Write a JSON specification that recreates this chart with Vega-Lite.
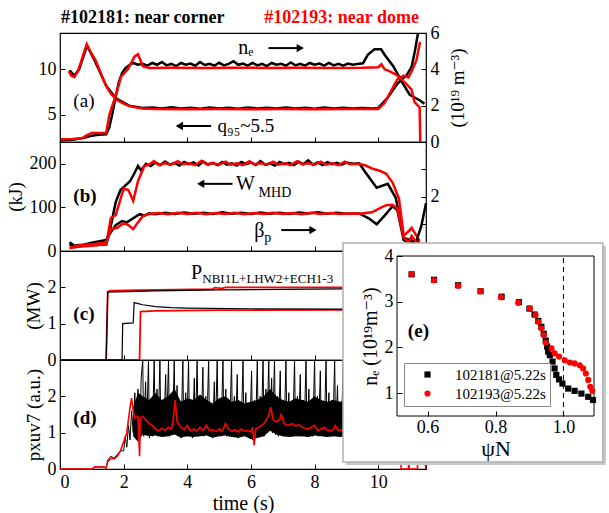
{
"$schema": "https://vega.github.io/schema/vega-lite/v6.json",
"background": "white",
"padding": {"left": 5, "top": 8, "right": 0, "bottom": 5},
"spacing": 0,
"bounds": "flush",
"config": {
  "font": "Liberation Serif, Times New Roman, DejaVu Serif, serif",
  "view": {"stroke": "#000", "strokeWidth": 1.2},
  "axis": {"domain": false, "grid": false, "tickSize": -5, "tickColor": "#000", "tickWidth": 1, "labelPadding": 9, "labelFont": "Liberation Serif, Times New Roman, DejaVu Serif, serif", "labelFontSize": 18, "labelColor": "#000", "titleFont": "Liberation Serif, Times New Roman, DejaVu Serif, serif", "titleFontSize": 19, "titleFontWeight": "normal", "titleColor": "#000"},
  "legend": {"labelFont": "Liberation Serif, Times New Roman, DejaVu Serif, serif"},
  "text": {"font": "Liberation Serif, Times New Roman, DejaVu Serif, serif", "fontSize": 18}
},
"resolve": {"scale": {"color": "independent", "shape": "independent"}},
"datasets": {
  "a_q181": [{"t":0.3,"v":9.9},{"t":0.45,"v":9.3},{"t":0.6,"v":10.0},{"t":0.85,"v":12.6},{"t":1.1,"v":10.9},{"t":1.45,"v":8.2},{"t":1.76,"v":6.8},{"t":2.17,"v":6.0},{"t":2.6,"v":5.75},{"t":2.9,"v":5.8},{"t":3.2,"v":5.68},{"t":3.5,"v":5.82},{"t":3.8,"v":5.7},{"t":4.1,"v":5.78},{"t":4.4,"v":5.66},{"t":4.7,"v":5.8},{"t":5.0,"v":5.7},{"t":5.3,"v":5.76},{"t":5.6,"v":5.66},{"t":5.9,"v":5.8},{"t":6.2,"v":5.7},{"t":6.5,"v":5.78},{"t":6.8,"v":5.68},{"t":7.1,"v":5.8},{"t":7.4,"v":5.7},{"t":7.7,"v":5.76},{"t":8.0,"v":5.66},{"t":8.3,"v":5.8},{"t":8.6,"v":5.7},{"t":8.9,"v":5.76},{"t":9.2,"v":5.68},{"t":9.5,"v":5.75},{"t":9.8,"v":5.7},{"t":10.0,"v":5.75},{"t":10.3,"v":6.9},{"t":10.6,"v":8.4},{"t":10.9,"v":9.4},{"t":11.05,"v":10.3},{"t":11.15,"v":12.0},{"t":11.25,"v":14.0}],
  "a_q193": [{"t":0.27,"v":9.8},{"t":0.36,"v":9.3},{"t":0.45,"v":9.15},{"t":0.55,"v":9.7},{"t":0.65,"v":10.7},{"t":0.75,"v":11.8},{"t":0.84,"v":12.76},{"t":0.95,"v":12.0},{"t":1.13,"v":10.9},{"t":1.3,"v":9.4},{"t":1.45,"v":8.16},{"t":1.6,"v":7.3},{"t":1.76,"v":6.7},{"t":1.95,"v":6.3},{"t":2.17,"v":5.96},{"t":2.4,"v":5.8},{"t":2.6,"v":5.7},{"t":3.0,"v":5.62},{"t":4.0,"v":5.6},{"t":5.0,"v":5.62},{"t":6.0,"v":5.6},{"t":7.0,"v":5.62},{"t":8.0,"v":5.6},{"t":9.0,"v":5.62},{"t":10.0,"v":5.62},{"t":10.2,"v":6.3},{"t":10.4,"v":7.6},{"t":10.6,"v":8.9},{"t":10.8,"v":9.3},{"t":10.95,"v":9.1},{"t":11.05,"v":9.8},{"t":11.2,"v":11.0},{"t":11.3,"v":12.8},{"t":11.33,"v":13.0}],
  "a_ne181": [{"t":0.0,"v":0.1},{"t":0.4,"v":0.12},{"t":0.8,"v":0.25},{"t":1.0,"v":0.35},{"t":1.2,"v":0.4},{"t":1.45,"v":0.42},{"t":1.55,"v":0.8},{"t":1.65,"v":1.6},{"t":1.75,"v":2.5},{"t":1.85,"v":3.3},{"t":1.95,"v":3.8},{"t":2.05,"v":4.05},{"t":2.15,"v":4.2},{"t":2.3,"v":4.35},{"t":2.45,"v":4.25},{"t":2.6,"v":4.3},{"t":2.75,"v":4.2},{"t":2.9,"v":4.35},{"t":3.05,"v":4.25},{"t":3.2,"v":4.4},{"t":3.35,"v":4.22},{"t":3.5,"v":4.3},{"t":3.65,"v":4.18},{"t":3.8,"v":4.35},{"t":3.95,"v":4.25},{"t":4.1,"v":4.32},{"t":4.25,"v":4.2},{"t":4.4,"v":4.4},{"t":4.55,"v":4.24},{"t":4.7,"v":4.3},{"t":4.85,"v":4.2},{"t":5.0,"v":4.36},{"t":5.15,"v":4.22},{"t":5.3,"v":4.3},{"t":5.45,"v":4.45},{"t":5.6,"v":4.25},{"t":5.75,"v":4.32},{"t":5.9,"v":4.2},{"t":6.05,"v":4.35},{"t":6.2,"v":4.22},{"t":6.35,"v":4.3},{"t":6.5,"v":4.18},{"t":6.65,"v":4.35},{"t":6.8,"v":4.25},{"t":6.95,"v":4.3},{"t":7.1,"v":4.2},{"t":7.25,"v":4.38},{"t":7.4,"v":4.22},{"t":7.55,"v":4.3},{"t":7.7,"v":4.2},{"t":7.85,"v":4.35},{"t":8.0,"v":4.25},{"t":8.15,"v":4.32},{"t":8.3,"v":4.2},{"t":8.45,"v":4.35},{"t":8.6,"v":4.22},{"t":8.75,"v":4.3},{"t":8.9,"v":4.2},{"t":9.05,"v":4.32},{"t":9.2,"v":4.25},{"t":9.35,"v":4.3},{"t":9.52,"v":4.33},{"t":9.67,"v":4.8},{"t":9.88,"v":5.1},{"t":10.09,"v":5.1},{"t":10.2,"v":4.8},{"t":10.47,"v":4.17},{"t":10.78,"v":3.2},{"t":10.99,"v":2.6},{"t":11.3,"v":2.3},{"t":11.45,"v":2.1}],
  "a_ne193": [{"t":0.03,"v":0.15},{"t":0.4,"v":0.17},{"t":0.72,"v":0.22},{"t":0.82,"v":0.35},{"t":1.0,"v":0.5},{"t":1.45,"v":0.5},{"t":1.55,"v":1.5},{"t":1.76,"v":2.6},{"t":1.92,"v":3.6},{"t":2.13,"v":4.0},{"t":2.34,"v":4.7},{"t":2.45,"v":4.83},{"t":2.6,"v":4.17},{"t":2.8,"v":4.08},{"t":3.5,"v":4.09},{"t":4.5,"v":4.07},{"t":5.5,"v":4.09},{"t":6.5,"v":4.08},{"t":7.5,"v":4.09},{"t":8.5,"v":4.08},{"t":9.5,"v":4.09},{"t":10.0,"v":4.12},{"t":10.1,"v":4.28},{"t":10.2,"v":4.0},{"t":10.35,"v":3.9},{"t":10.57,"v":3.7},{"t":10.88,"v":3.2},{"t":11.04,"v":2.9},{"t":11.14,"v":2.2},{"t":11.3,"v":1.9},{"t":11.32,"v":0.0}],
  "b_w181": [{"t":0.3,"v":20},{"t":0.45,"v":12},{"t":0.6,"v":14},{"t":1.0,"v":14},{"t":1.45,"v":15},{"t":1.55,"v":40},{"t":1.75,"v":112},{"t":1.9,"v":140},{"t":2.05,"v":150},{"t":2.2,"v":160},{"t":2.35,"v":180},{"t":2.45,"v":195},{"t":2.55,"v":185},{"t":2.7,"v":200},{"t":2.85,"v":195},{"t":3.0,"v":203},{"t":3.15,"v":197},{"t":3.3,"v":205},{"t":3.45,"v":198},{"t":3.6,"v":202},{"t":3.75,"v":196},{"t":3.9,"v":204},{"t":4.05,"v":199},{"t":4.2,"v":203},{"t":4.35,"v":196},{"t":4.5,"v":205},{"t":4.65,"v":198},{"t":4.8,"v":202},{"t":4.95,"v":197},{"t":5.1,"v":204},{"t":5.25,"v":198},{"t":5.4,"v":201},{"t":5.55,"v":196},{"t":5.7,"v":204},{"t":5.85,"v":199},{"t":6.0,"v":203},{"t":6.15,"v":197},{"t":6.3,"v":206},{"t":6.45,"v":198},{"t":6.6,"v":201},{"t":6.75,"v":196},{"t":6.9,"v":204},{"t":7.05,"v":199},{"t":7.2,"v":202},{"t":7.35,"v":197},{"t":7.5,"v":205},{"t":7.65,"v":199},{"t":7.8,"v":208},{"t":7.95,"v":198},{"t":8.1,"v":203},{"t":8.25,"v":197},{"t":8.4,"v":204},{"t":8.55,"v":199},{"t":8.7,"v":202},{"t":8.85,"v":198},{"t":9.0,"v":203},{"t":9.2,"v":200},{"t":9.4,"v":201},{"t":9.6,"v":180},{"t":9.8,"v":160},{"t":9.95,"v":145},{"t":10.3,"v":154},{"t":10.55,"v":122},{"t":10.8,"v":30},{"t":11.1,"v":23},{"t":11.3,"v":20}],
  "b_w193": [{"t":0.3,"v":7},{"t":0.6,"v":10},{"t":1.0,"v":12},{"t":1.45,"v":15},{"t":1.6,"v":76},{"t":1.75,"v":82},{"t":2.0,"v":143},{"t":2.15,"v":140},{"t":2.3,"v":115},{"t":2.45,"v":160},{"t":2.65,"v":195},{"t":2.8,"v":198},{"t":2.95,"v":206},{"t":3.1,"v":197},{"t":3.3,"v":201},{"t":3.5,"v":198},{"t":3.7,"v":206},{"t":3.85,"v":199},{"t":4.05,"v":201},{"t":4.25,"v":197},{"t":4.45,"v":207},{"t":4.6,"v":199},{"t":4.8,"v":201},{"t":5.0,"v":198},{"t":5.2,"v":205},{"t":5.35,"v":198},{"t":5.55,"v":201},{"t":5.75,"v":197},{"t":5.95,"v":206},{"t":6.1,"v":199},{"t":6.3,"v":201},{"t":6.5,"v":198},{"t":6.7,"v":205},{"t":6.85,"v":198},{"t":7.05,"v":201},{"t":7.25,"v":197},{"t":7.45,"v":206},{"t":7.6,"v":199},{"t":7.8,"v":201},{"t":8.0,"v":198},{"t":8.2,"v":205},{"t":8.35,"v":198},{"t":8.55,"v":201},{"t":8.75,"v":197},{"t":8.95,"v":205},{"t":9.1,"v":199},{"t":9.4,"v":200},{"t":9.6,"v":196},{"t":9.85,"v":188},{"t":10.05,"v":184},{"t":10.25,"v":177},{"t":10.45,"v":157},{"t":10.65,"v":120},{"t":10.8,"v":35},{"t":10.95,"v":45},{"t":11.05,"v":53},{"t":11.3,"v":23}],
  "b_bp181": [{"t":0.3,"v":0.25},{"t":0.45,"v":0.15},{"t":1.0,"v":0.3},{"t":1.45,"v":0.4},{"t":1.55,"v":0.6},{"t":1.75,"v":0.95},{"t":1.95,"v":1.1},{"t":2.1,"v":1.05},{"t":2.3,"v":1.2},{"t":2.5,"v":1.35},{"t":2.65,"v":1.3},{"t":2.8,"v":1.38},{"t":3.0,"v":1.35},{"t":3.3,"v":1.4},{"t":3.6,"v":1.36},{"t":3.9,"v":1.41},{"t":4.2,"v":1.37},{"t":4.5,"v":1.4},{"t":4.8,"v":1.36},{"t":5.1,"v":1.42},{"t":5.4,"v":1.37},{"t":5.7,"v":1.4},{"t":6.0,"v":1.36},{"t":6.3,"v":1.41},{"t":6.6,"v":1.37},{"t":6.9,"v":1.4},{"t":7.2,"v":1.36},{"t":7.5,"v":1.41},{"t":7.8,"v":1.38},{"t":8.1,"v":1.42},{"t":8.4,"v":1.37},{"t":8.7,"v":1.4},{"t":9.0,"v":1.37},{"t":9.4,"v":1.38},{"t":9.7,"v":1.2},{"t":9.95,"v":0.98},{"t":10.2,"v":1.3},{"t":10.45,"v":1.64},{"t":10.6,"v":1.5},{"t":10.8,"v":0.4},{"t":11.0,"v":0.3},{"t":11.2,"v":0.38},{"t":11.35,"v":0.9},{"t":11.5,"v":1.75}],
  "b_bp193": [{"t":0.3,"v":0.12},{"t":0.6,"v":0.2},{"t":1.0,"v":0.25},{"t":1.45,"v":0.3},{"t":1.6,"v":0.8},{"t":1.8,"v":0.85},{"t":2.0,"v":1.02},{"t":2.15,"v":0.95},{"t":2.3,"v":0.8},{"t":2.45,"v":1.05},{"t":2.6,"v":1.28},{"t":2.8,"v":1.36},{"t":3.1,"v":1.39},{"t":3.4,"v":1.35},{"t":3.7,"v":1.4},{"t":4.0,"v":1.36},{"t":4.3,"v":1.4},{"t":4.6,"v":1.35},{"t":4.9,"v":1.39},{"t":5.2,"v":1.36},{"t":5.5,"v":1.4},{"t":5.8,"v":1.35},{"t":6.1,"v":1.39},{"t":6.4,"v":1.36},{"t":6.7,"v":1.4},{"t":7.0,"v":1.36},{"t":7.3,"v":1.39},{"t":7.6,"v":1.35},{"t":7.9,"v":1.4},{"t":8.2,"v":1.36},{"t":8.5,"v":1.39},{"t":8.8,"v":1.36},{"t":9.1,"v":1.38},{"t":9.4,"v":1.37},{"t":9.8,"v":1.42},{"t":10.1,"v":1.6},{"t":10.25,"v":1.68},{"t":10.45,"v":1.7},{"t":10.6,"v":1.55},{"t":10.8,"v":0.5},{"t":10.95,"v":0.3},{"t":11.05,"v":0.55},{"t":11.3,"v":0.15}],
  "c_red": [{"s":"r1","t":0.0,"v":0.0},{"s":"r1","t":1.45,"v":0.0},{"s":"r1","t":1.5,"v":1.88},{"s":"r1","t":1.6,"v":1.91},{"s":"r1","t":3.0,"v":1.93},{"s":"r1","t":4.8,"v":1.95},{"s":"r1","t":4.85,"v":1.99},{"s":"r1","t":5.1,"v":1.97},{"s":"r1","t":5.2,"v":2.0},{"s":"r1","t":8.9,"v":2.0},{"s":"r1","t":10.9,"v":2.0},{"s":"r1","t":10.95,"v":0.0},{"s":"r1","t":11.5,"v":0.0},{"s":"r2","t":0.0,"v":0.0},{"s":"r2","t":2.5,"v":0.0},{"s":"r2","t":2.53,"v":1.33},{"s":"r2","t":3.0,"v":1.35},{"s":"r2","t":5.0,"v":1.37},{"s":"r2","t":8.9,"v":1.38},{"s":"r2","t":10.9,"v":1.38},{"s":"r2","t":10.95,"v":0.0}],
  "c_black": [{"s":"k1","t":1.45,"v":0.0},{"s":"k1","t":1.5,"v":1.87},{"s":"k1","t":3.0,"v":1.9},{"s":"k1","t":5.0,"v":1.93},{"s":"k1","t":8.9,"v":1.96},{"s":"k2","t":0.0,"v":0.0},{"s":"k2","t":1.95,"v":0.0},{"s":"k2","t":1.97,"v":1.0},{"s":"k2","t":2.3,"v":1.02},{"s":"k2","t":2.33,"v":1.58},{"s":"k2","t":2.6,"v":1.52},{"s":"k2","t":3.0,"v":1.47},{"s":"k2","t":3.5,"v":1.44},{"s":"k2","t":4.0,"v":1.43},{"s":"k2","t":6.0,"v":1.41},{"s":"k2","t":8.9,"v":1.4},{"s":"k2","t":10.9,"v":1.4}],
  "d_band": [{"t":2.3,"lo":0.9,"hi":1.7},{"t":2.45,"lo":0.75,"hi":2.1},{"t":2.6,"lo":0.95,"hi":2.0},{"t":2.8,"lo":0.9,"hi":1.9},{"t":3.0,"lo":0.92,"hi":2.1},{"t":3.2,"lo":0.88,"hi":1.9},{"t":3.4,"lo":0.9,"hi":2.0},{"t":3.6,"lo":0.95,"hi":2.2},{"t":3.8,"lo":0.87,"hi":1.85},{"t":4.0,"lo":0.9,"hi":1.95},{"t":4.2,"lo":0.88,"hi":1.9},{"t":4.4,"lo":0.9,"hi":2.05},{"t":4.6,"lo":0.92,"hi":1.9},{"t":4.8,"lo":0.86,"hi":1.8},{"t":5.0,"lo":0.9,"hi":1.95},{"t":5.2,"lo":0.92,"hi":2.0},{"t":5.4,"lo":0.88,"hi":1.85},{"t":5.6,"lo":0.86,"hi":1.9},{"t":5.8,"lo":0.9,"hi":1.8},{"t":6.0,"lo":0.82,"hi":1.85},{"t":6.2,"lo":0.85,"hi":1.9},{"t":6.4,"lo":0.9,"hi":2.0},{"t":6.6,"lo":1.05,"hi":2.2},{"t":6.8,"lo":0.95,"hi":2.0},{"t":7.0,"lo":0.9,"hi":1.9},{"t":7.2,"lo":0.88,"hi":1.85},{"t":7.4,"lo":0.9,"hi":1.95},{"t":7.6,"lo":0.9,"hi":1.9},{"t":7.8,"lo":0.88,"hi":1.85},{"t":8.0,"lo":0.92,"hi":2.0},{"t":8.2,"lo":0.9,"hi":1.9},{"t":8.4,"lo":0.88,"hi":1.85},{"t":8.6,"lo":0.9,"hi":1.9},{"t":8.8,"lo":0.88,"hi":1.85},{"t":9.0,"lo":0.9,"hi":1.9}],
  "d_black": [{"t":0.0,"v":0.0},{"t":1.0,"v":0.0},{"t":1.1,"v":0.05},{"t":1.4,"v":0.06},{"t":1.45,"v":0.02},{"t":1.5,"v":0.25},{"t":1.6,"v":0.35},{"t":1.7,"v":0.3},{"t":1.8,"v":0.4},{"t":1.9,"v":0.5},{"t":2.0,"v":0.5},{"t":2.05,"v":0.9},{"t":2.1,"v":0.6},{"t":2.15,"v":1.2},{"t":2.2,"v":0.8},{"t":2.25,"v":1.6},{"t":2.3,"v":1.0},{"t":2.35,"v":2.1},{"t":2.4,"v":0.9},{"t":2.45,"v":2.2},{"t":2.5,"v":0.5},{"t":2.55,"v":2.5},{"t":2.6,"v":3.0},{"t":2.63,"v":0.9},{"t":2.69,"v":2.4},{"t":2.72,"v":0.95},{"t":2.78,"v":3.0},{"t":2.81,"v":0.85},{"t":2.87,"v":1.9},{"t":2.9,"v":0.9},{"t":2.96,"v":3.0},{"t":2.99,"v":1.0},{"t":3.05,"v":2.2},{"t":3.08,"v":0.9},{"t":3.14,"v":3.0},{"t":3.17,"v":0.95},{"t":3.23,"v":1.8},{"t":3.26,"v":0.9},{"t":3.32,"v":2.6},{"t":3.35,"v":1.0},{"t":3.41,"v":3.0},{"t":3.44,"v":0.9},{"t":3.5,"v":2.0},{"t":3.53,"v":0.95},{"t":3.59,"v":3.0},{"t":3.62,"v":1.0},{"t":3.68,"v":2.3},{"t":3.71,"v":0.9},{"t":3.77,"v":1.7},{"t":3.8,"v":0.85},{"t":3.86,"v":3.0},{"t":3.89,"v":0.95},{"t":3.95,"v":2.1},{"t":3.98,"v":0.9},{"t":4.04,"v":3.0},{"t":4.07,"v":0.9},{"t":4.13,"v":1.9},{"t":4.16,"v":0.85},{"t":4.22,"v":2.5},{"t":4.25,"v":0.95},{"t":4.31,"v":3.0},{"t":4.34,"v":0.9},{"t":4.4,"v":1.8},{"t":4.43,"v":0.95},{"t":4.49,"v":2.8},{"t":4.52,"v":0.9},{"t":4.58,"v":2.0},{"t":4.61,"v":0.95},{"t":4.67,"v":3.0},{"t":4.7,"v":0.9},{"t":4.76,"v":1.7},{"t":4.79,"v":0.85},{"t":4.85,"v":2.4},{"t":4.88,"v":0.9},{"t":4.94,"v":3.0},{"t":4.97,"v":0.95},{"t":5.03,"v":1.9},{"t":5.06,"v":0.9},{"t":5.12,"v":3.0},{"t":5.15,"v":1.0},{"t":5.21,"v":2.2},{"t":5.24,"v":0.9},{"t":5.3,"v":1.8},{"t":5.33,"v":0.9},{"t":5.39,"v":3.0},{"t":5.42,"v":0.95},{"t":5.48,"v":2.0},{"t":5.51,"v":0.9},{"t":5.57,"v":2.6},{"t":5.6,"v":0.85},{"t":5.66,"v":1.8},{"t":5.69,"v":0.9},{"t":5.75,"v":3.0},{"t":5.78,"v":0.95},{"t":5.84,"v":2.1},{"t":5.87,"v":0.9},{"t":5.93,"v":1.7},{"t":5.96,"v":0.85},{"t":6.02,"v":2.7},{"t":6.05,"v":0.8},{"t":6.11,"v":1.9},{"t":6.14,"v":0.85},{"t":6.2,"v":3.0},{"t":6.23,"v":0.9},{"t":6.29,"v":2.0},{"t":6.32,"v":0.95},{"t":6.38,"v":3.0},{"t":6.41,"v":0.9},{"t":6.47,"v":2.2},{"t":6.5,"v":1.0},{"t":6.56,"v":3.0},{"t":6.59,"v":1.1},{"t":6.65,"v":2.5},{"t":6.68,"v":1.0},{"t":6.74,"v":3.0},{"t":6.77,"v":0.95},{"t":6.83,"v":2.0},{"t":6.86,"v":0.9},{"t":6.92,"v":2.7},{"t":6.95,"v":0.95},{"t":7.01,"v":1.8},{"t":7.04,"v":0.9},{"t":7.1,"v":3.0},{"t":7.13,"v":0.95},{"t":7.19,"v":2.1},{"t":7.22,"v":0.9},{"t":7.28,"v":1.7},{"t":7.31,"v":0.9},{"t":7.37,"v":3.0},{"t":7.4,"v":0.95},{"t":7.46,"v":2.0},{"t":7.49,"v":0.9},{"t":7.55,"v":2.6},{"t":7.58,"v":0.9},{"t":7.64,"v":1.9},{"t":7.67,"v":0.95},{"t":7.73,"v":3.0},{"t":7.76,"v":0.9},{"t":7.82,"v":2.2},{"t":7.85,"v":0.95},{"t":7.91,"v":1.8},{"t":7.94,"v":0.9},{"t":8.0,"v":3.0},{"t":8.03,"v":0.95},{"t":8.09,"v":2.0},{"t":8.12,"v":0.9},{"t":8.18,"v":2.7},{"t":8.21,"v":0.95},{"t":8.27,"v":1.8},{"t":8.3,"v":0.9},{"t":8.36,"v":3.0},{"t":8.39,"v":0.95},{"t":8.45,"v":2.1},{"t":8.48,"v":0.9},{"t":8.54,"v":1.9},{"t":8.57,"v":0.9},{"t":8.63,"v":3.0},{"t":8.66,"v":0.95},{"t":8.72,"v":2.3},{"t":8.75,"v":0.9},{"t":8.81,"v":1.8},{"t":8.84,"v":0.9},{"t":8.9,"v":3.0},{"t":8.93,"v":0.95},{"t":9.0,"v":2.0},{"t":9.03,"v":0.9},{"t":9.5,"v":1.2},{"t":10.0,"v":1.2},{"t":10.5,"v":1.0},{"t":10.6,"v":1.0}],
  "d_red": [{"t":0.0,"v":0.0},{"t":1.0,"v":0.0},{"t":1.1,"v":0.06},{"t":1.4,"v":0.05},{"t":1.45,"v":0.03},{"t":1.5,"v":0.2},{"t":1.6,"v":0.3},{"t":1.7,"v":0.28},{"t":1.8,"v":0.35},{"t":1.9,"v":0.5},{"t":2.0,"v":0.75},{"t":2.1,"v":1.0},{"t":2.2,"v":1.7},{"t":2.25,"v":1.95},{"t":2.3,"v":1.6},{"t":2.35,"v":1.4},{"t":2.45,"v":1.45},{"t":2.5,"v":0.35},{"t":2.52,"v":1.4},{"t":2.6,"v":1.45},{"t":2.7,"v":1.35},{"t":2.8,"v":1.25},{"t":2.9,"v":1.2},{"t":3.0,"v":1.1},{"t":3.1,"v":1.05},{"t":3.2,"v":1.12},{"t":3.3,"v":1.06},{"t":3.4,"v":1.15},{"t":3.5,"v":1.1},{"t":3.55,"v":1.3},{"t":3.62,"v":1.9},{"t":3.68,"v":1.3},{"t":3.8,"v":1.15},{"t":3.9,"v":1.08},{"t":4.0,"v":1.2},{"t":4.1,"v":1.05},{"t":4.2,"v":1.1},{"t":4.3,"v":1.04},{"t":4.4,"v":1.15},{"t":4.5,"v":1.06},{"t":4.6,"v":1.2},{"t":4.7,"v":1.05},{"t":4.8,"v":1.08},{"t":4.9,"v":1.03},{"t":5.0,"v":1.1},{"t":5.1,"v":1.04},{"t":5.2,"v":1.25},{"t":5.3,"v":1.1},{"t":5.4,"v":1.04},{"t":5.5,"v":1.08},{"t":5.6,"v":1.02},{"t":5.7,"v":1.1},{"t":5.8,"v":1.04},{"t":5.9,"v":1.06},{"t":6.0,"v":1.02},{"t":6.05,"v":1.15},{"t":6.1,"v":0.65},{"t":6.15,"v":1.1},{"t":6.25,"v":1.15},{"t":6.35,"v":1.2},{"t":6.45,"v":1.3},{"t":6.55,"v":1.45},{"t":6.62,"v":1.7},{"t":6.7,"v":1.35},{"t":6.8,"v":1.3},{"t":6.9,"v":1.35},{"t":6.95,"v":1.5},{"t":7.05,"v":1.25},{"t":7.15,"v":1.2},{"t":7.3,"v":1.25},{"t":7.4,"v":1.18},{"t":7.5,"v":1.22},{"t":7.6,"v":1.15},{"t":7.7,"v":1.12},{"t":7.8,"v":1.1},{"t":7.9,"v":1.15},{"t":8.0,"v":1.2},{"t":8.1,"v":1.05},{"t":8.2,"v":1.1},{"t":8.3,"v":1.15},{"t":8.4,"v":1.06},{"t":8.5,"v":1.05},{"t":8.6,"v":1.1},{"t":8.65,"v":1.2},{"t":8.75,"v":1.05},{"t":8.85,"v":1.08},{"t":9.0,"v":1.1},{"t":9.5,"v":1.1},{"t":10.0,"v":1.05},{"t":10.7,"v":1.0},{"t":10.71,"v":0.27},{"t":10.72,"v":0.0},{"t":10.95,"v":0.0},{"t":10.96,"v":0.25},{"t":10.97,"v":0.0},{"t":11.23,"v":0.0},{"t":11.24,"v":0.27},{"t":11.48,"v":0.27},{"t":11.49,"v":0.0}],
  "e_points": [{"shot":"102181@5.22s","psi":0.553,"ne":3.6},{"shot":"102181@5.22s","psi":0.619,"ne":3.48},{"shot":"102181@5.22s","psi":0.69,"ne":3.36},{"shot":"102181@5.22s","psi":0.756,"ne":3.23},{"shot":"102181@5.22s","psi":0.818,"ne":3.11},{"shot":"102181@5.22s","psi":0.869,"ne":2.99},{"shot":"102181@5.22s","psi":0.9,"ne":2.85},{"shot":"102181@5.22s","psi":0.915,"ne":2.72},{"shot":"102181@5.22s","psi":0.926,"ne":2.58},{"shot":"102181@5.22s","psi":0.935,"ne":2.45},{"shot":"102181@5.22s","psi":0.942,"ne":2.3},{"shot":"102181@5.22s","psi":0.948,"ne":2.15},{"shot":"102181@5.22s","psi":0.952,"ne":2.02},{"shot":"102181@5.22s","psi":0.955,"ne":1.91},{"shot":"102181@5.22s","psi":0.96,"ne":1.83},{"shot":"102181@5.22s","psi":0.968,"ne":1.69},{"shot":"102181@5.22s","psi":0.974,"ne":1.54},{"shot":"102181@5.22s","psi":0.979,"ne":1.4},{"shot":"102181@5.22s","psi":0.987,"ne":1.3},{"shot":"102181@5.22s","psi":0.997,"ne":1.21},{"shot":"102181@5.22s","psi":1.014,"ne":1.1},{"shot":"102181@5.22s","psi":1.033,"ne":1.05},{"shot":"102181@5.22s","psi":1.053,"ne":0.99},{"shot":"102181@5.22s","psi":1.073,"ne":0.92},{"shot":"102181@5.22s","psi":1.087,"ne":0.85},{"shot":"102193@5.22s","psi":0.553,"ne":3.61},{"shot":"102193@5.22s","psi":0.619,"ne":3.47},{"shot":"102193@5.22s","psi":0.69,"ne":3.35},{"shot":"102193@5.22s","psi":0.756,"ne":3.23},{"shot":"102193@5.22s","psi":0.816,"ne":3.1},{"shot":"102193@5.22s","psi":0.867,"ne":2.98},{"shot":"102193@5.22s","psi":0.901,"ne":2.85},{"shot":"102193@5.22s","psi":0.918,"ne":2.71},{"shot":"102193@5.22s","psi":0.926,"ne":2.56},{"shot":"102193@5.22s","psi":0.935,"ne":2.42},{"shot":"102193@5.22s","psi":0.942,"ne":2.27},{"shot":"102193@5.22s","psi":0.948,"ne":2.1},{"shot":"102193@5.22s","psi":0.965,"ne":1.98},{"shot":"102193@5.22s","psi":0.974,"ne":1.87},{"shot":"102193@5.22s","psi":0.987,"ne":1.8},{"shot":"102193@5.22s","psi":1.004,"ne":1.72},{"shot":"102193@5.22s","psi":1.019,"ne":1.67},{"shot":"102193@5.22s","psi":1.033,"ne":1.65},{"shot":"102193@5.22s","psi":1.048,"ne":1.61},{"shot":"102193@5.22s","psi":1.058,"ne":1.54},{"shot":"102193@5.22s","psi":1.066,"ne":1.43},{"shot":"102193@5.22s","psi":1.073,"ne":1.29},{"shot":"102193@5.22s","psi":1.079,"ne":1.14},{"shot":"102193@5.22s","psi":1.085,"ne":1.05}]
},
"vconcat": [
{
  "width": 366, "height": 109,
  "layer": [
    {"layer": [
      {"data": {"name": "a_q181"}, "mark": {"type": "line", "color": "#000", "strokeWidth": 2.5}, "encoding": {"x": {"field": "t", "type": "quantitative", "scale": {"domain": [0, 11.5], "nice": false, "zero": false}, "axis": {"title": null, "labels": false, "values": [0,2,4,6,8,10]}}, "y": {"field": "v", "type": "quantitative", "scale": {"domain": [2, 14], "nice": false, "zero": false}, "axis": {"title": null, "values": [5, 10]}}}},
      {"data": {"name": "a_q193"}, "mark": {"type": "line", "color": "#ff0000", "strokeWidth": 2.5}, "encoding": {"x": {"field": "t", "type": "quantitative", "scale": {"domain": [0, 11.5], "nice": false, "zero": false}, "axis": {"title": null, "labels": false, "values": [0,2,4,6,8,10]}}, "y": {"field": "v", "type": "quantitative", "scale": {"domain": [2, 14], "nice": false, "zero": false}, "axis": {"title": null, "values": [5, 10]}}}},
      {"data": {"values": [{"t": 0.03, "v": 15.65, "label": "#102181: near corner"}]}, "mark": {"type": "text", "align": "left", "baseline": "middle", "fontWeight": "bold", "fontSize": 18, "color": "#000"}, "encoding": {"x": {"field": "t", "type": "quantitative", "scale": {"domain": [0, 11.5], "nice": false, "zero": false}, "axis": {"title": null, "labels": false, "values": [0,2,4,6,8,10]}}, "y": {"field": "v", "type": "quantitative", "scale": {"domain": [2, 14], "nice": false, "zero": false}, "axis": {"title": null, "values": [5, 10]}}, "text": {"field": "label"}}},
      {"data": {"values": [{"t": 6.42, "v": 15.65, "label": "#102193: near dome"}]}, "mark": {"type": "text", "align": "left", "baseline": "middle", "fontWeight": "bold", "fontSize": 18, "color": "#ff0000"}, "encoding": {"x": {"field": "t", "type": "quantitative", "scale": {"domain": [0, 11.5], "nice": false, "zero": false}, "axis": {"title": null, "labels": false, "values": [0,2,4,6,8,10]}}, "y": {"field": "v", "type": "quantitative", "scale": {"domain": [2, 14], "nice": false, "zero": false}, "axis": {"title": null, "values": [5, 10]}}, "text": {"field": "label"}}},
      {"data": {"values": [{"t": 0.42, "v": 6.5, "label": "(a)"}, {"t": 4.95, "v": 3.76, "label": "q₉₅~5.5"}]}, "mark": {"type": "text", "align": "left", "baseline": "middle", "fontSize": 19, "color": "#000"}, "encoding": {"x": {"field": "t", "type": "quantitative", "scale": {"domain": [0, 11.5], "nice": false, "zero": false}, "axis": {"title": null, "labels": false, "values": [0,2,4,6,8,10]}}, "y": {"field": "v", "type": "quantitative", "scale": {"domain": [2, 14], "nice": false, "zero": false}, "axis": {"title": null, "values": [5, 10]}}, "text": {"field": "label"}, "fontWeight": {"condition": {"test": "datum.label == '(a)'", "value": "bold"}, "value": "normal"}}},
      {"data": {"values": [{"t": 3.78, "t2": 4.75, "v": 3.76}]}, "mark": {"type": "rule", "color": "#000", "strokeWidth": 2}, "encoding": {"x": {"field": "t", "type": "quantitative", "scale": {"domain": [0, 11.5], "nice": false, "zero": false}, "axis": {"title": null, "labels": false, "values": [0,2,4,6,8,10]}}, "x2": {"field": "t2"}, "y": {"field": "v", "type": "quantitative", "scale": {"domain": [2, 14], "nice": false, "zero": false}, "axis": {"title": null, "values": [5, 10]}}}},
      {"data": {"values": [{"t": 3.75, "v": 3.76}]}, "mark": {"type": "point", "shape": "triangle-left", "filled": true, "color": "#000", "size": 70, "opacity": 1}, "encoding": {"x": {"field": "t", "type": "quantitative", "scale": {"domain": [0, 11.5], "nice": false, "zero": false}, "axis": {"title": null, "labels": false, "values": [0,2,4,6,8,10]}}, "y": {"field": "v", "type": "quantitative", "scale": {"domain": [2, 14], "nice": false, "zero": false}, "axis": {"title": null, "values": [5, 10]}}}}
    ]},
    {"layer": [
      {"data": {"name": "a_ne181"}, "mark": {"type": "line", "color": "#000", "strokeWidth": 2.5}, "encoding": {"x": {"field": "t", "type": "quantitative", "scale": {"domain": [0, 11.5], "nice": false, "zero": false}, "axis": {"title": null, "labels": false, "values": [0,2,4,6,8,10]}}, "y": {"field": "v", "type": "quantitative", "scale": {"domain": [0, 6], "nice": false, "zero": false}, "axis": {"orient": "right", "title": "(10¹⁹ m⁻³)", "titleAngle": 270, "titleBaseline": "top", "titlePadding": 9, "values": [0, 2, 4, 6]}}}},
      {"data": {"name": "a_ne193"}, "mark": {"type": "line", "color": "#ff0000", "strokeWidth": 2.5}, "encoding": {"x": {"field": "t", "type": "quantitative", "scale": {"domain": [0, 11.5], "nice": false, "zero": false}, "axis": {"title": null, "labels": false, "values": [0,2,4,6,8,10]}}, "y": {"field": "v", "type": "quantitative", "scale": {"domain": [0, 6], "nice": false, "zero": false}, "axis": {"orient": "right", "title": "(10¹⁹ m⁻³)", "titleAngle": 270, "titleBaseline": "top", "titlePadding": 9, "values": [0, 2, 4, 6]}}}},
      {"data": {"values": [{"t": 5.6, "v": 5.15, "label": "nₑ"}]}, "mark": {"type": "text", "align": "left", "baseline": "middle", "fontSize": 20, "color": "#000"}, "encoding": {"x": {"field": "t", "type": "quantitative", "scale": {"domain": [0, 11.5], "nice": false, "zero": false}, "axis": {"title": null, "labels": false, "values": [0,2,4,6,8,10]}}, "y": {"field": "v", "type": "quantitative", "scale": {"domain": [0, 6], "nice": false, "zero": false}, "axis": {"orient": "right", "title": "(10¹⁹ m⁻³)", "titleAngle": 270, "titleBaseline": "top", "titlePadding": 9, "values": [0, 2, 4, 6]}}, "text": {"field": "label"}}},
      {"data": {"values": [{"t": 6.55, "t2": 7.5, "v": 5.17}]}, "mark": {"type": "rule", "color": "#000", "strokeWidth": 2}, "encoding": {"x": {"field": "t", "type": "quantitative", "scale": {"domain": [0, 11.5], "nice": false, "zero": false}, "axis": {"title": null, "labels": false, "values": [0,2,4,6,8,10]}}, "x2": {"field": "t2"}, "y": {"field": "v", "type": "quantitative", "scale": {"domain": [0, 6], "nice": false, "zero": false}, "axis": {"orient": "right", "title": "(10¹⁹ m⁻³)", "titleAngle": 270, "titleBaseline": "top", "titlePadding": 9, "values": [0, 2, 4, 6]}}}},
      {"data": {"values": [{"t": 7.55, "v": 5.17}]}, "mark": {"type": "point", "shape": "triangle-right", "filled": true, "color": "#000", "size": 70, "opacity": 1}, "encoding": {"x": {"field": "t", "type": "quantitative", "scale": {"domain": [0, 11.5], "nice": false, "zero": false}, "axis": {"title": null, "labels": false, "values": [0,2,4,6,8,10]}}, "y": {"field": "v", "type": "quantitative", "scale": {"domain": [0, 6], "nice": false, "zero": false}, "axis": {"orient": "right", "title": "(10¹⁹ m⁻³)", "titleAngle": 270, "titleBaseline": "top", "titlePadding": 9, "values": [0, 2, 4, 6]}}}}
    ]}
  ],
  "resolve": {"scale": {"y": "independent"}}
},
{
  "width": 366, "height": 109,
  "layer": [
    {"layer": [
      {"data": {"name": "b_w181"}, "mark": {"type": "line", "color": "#000", "strokeWidth": 2.5}, "encoding": {"x": {"field": "t", "type": "quantitative", "scale": {"domain": [0, 11.5], "nice": false, "zero": false}, "axis": {"title": null, "labels": false, "values": [0,2,4,6,8,10]}}, "y": {"field": "v", "type": "quantitative", "scale": {"domain": [0, 250], "nice": false, "zero": false}, "axis": {"title": "(kJ)", "values": [0, 100, 200]}}}},
      {"data": {"name": "b_w193"}, "mark": {"type": "line", "color": "#ff0000", "strokeWidth": 2.5}, "encoding": {"x": {"field": "t", "type": "quantitative", "scale": {"domain": [0, 11.5], "nice": false, "zero": false}, "axis": {"title": null, "labels": false, "values": [0,2,4,6,8,10]}}, "y": {"field": "v", "type": "quantitative", "scale": {"domain": [0, 250], "nice": false, "zero": false}, "axis": {"title": "(kJ)", "values": [0, 100, 200]}}}},
      {"data": {"values": [{"t": 0.42, "v": 126, "label": "(b)"}]}, "mark": {"type": "text", "align": "left", "baseline": "middle", "fontSize": 19, "fontWeight": "bold", "color": "#000"}, "encoding": {"x": {"field": "t", "type": "quantitative", "scale": {"domain": [0, 11.5], "nice": false, "zero": false}, "axis": {"title": null, "labels": false, "values": [0,2,4,6,8,10]}}, "y": {"field": "v", "type": "quantitative", "scale": {"domain": [0, 250], "nice": false, "zero": false}, "axis": {"title": "(kJ)", "values": [0, 100, 200]}}, "text": {"field": "label"}}},
      {"data": {"values": [{"t": 5.53, "v": 154, "label": "W"}, {"t": 6.1, "v": 46, "label": "β"}]}, "mark": {"type": "text", "align": "left", "baseline": "middle", "fontSize": 20, "color": "#000"}, "encoding": {"x": {"field": "t", "type": "quantitative", "scale": {"domain": [0, 11.5], "nice": false, "zero": false}, "axis": {"title": null, "labels": false, "values": [0,2,4,6,8,10]}}, "y": {"field": "v", "type": "quantitative", "scale": {"domain": [0, 250], "nice": false, "zero": false}, "axis": {"title": "(kJ)", "values": [0, 100, 200]}}, "text": {"field": "label"}}},
      {"data": {"values": [{"t": 6.24, "v": 132, "label": "MHD"}, {"t": 6.42, "v": 30, "label": "p"}]}, "mark": {"type": "text", "align": "left", "baseline": "middle", "fontSize": 14, "color": "#000"}, "encoding": {"x": {"field": "t", "type": "quantitative", "scale": {"domain": [0, 11.5], "nice": false, "zero": false}, "axis": {"title": null, "labels": false, "values": [0,2,4,6,8,10]}}, "y": {"field": "v", "type": "quantitative", "scale": {"domain": [0, 250], "nice": false, "zero": false}, "axis": {"title": "(kJ)", "values": [0, 100, 200]}}, "text": {"field": "label"}}},
      {"data": {"values": [{"t": 4.45, "t2": 5.42, "v": 154}, {"t": 6.95, "t2": 7.9, "v": 48}]}, "mark": {"type": "rule", "color": "#000", "strokeWidth": 2}, "encoding": {"x": {"field": "t", "type": "quantitative", "scale": {"domain": [0, 11.5], "nice": false, "zero": false}, "axis": {"title": null, "labels": false, "values": [0,2,4,6,8,10]}}, "x2": {"field": "t2"}, "y": {"field": "v", "type": "quantitative", "scale": {"domain": [0, 250], "nice": false, "zero": false}, "axis": {"title": "(kJ)", "values": [0, 100, 200]}}}},
      {"data": {"values": [{"t": 4.42, "v": 154}]}, "mark": {"type": "point", "shape": "triangle-left", "filled": true, "color": "#000", "size": 70, "opacity": 1}, "encoding": {"x": {"field": "t", "type": "quantitative", "scale": {"domain": [0, 11.5], "nice": false, "zero": false}, "axis": {"title": null, "labels": false, "values": [0,2,4,6,8,10]}}, "y": {"field": "v", "type": "quantitative", "scale": {"domain": [0, 250], "nice": false, "zero": false}, "axis": {"title": "(kJ)", "values": [0, 100, 200]}}}},
      {"data": {"values": [{"t": 7.95, "v": 48}]}, "mark": {"type": "point", "shape": "triangle-right", "filled": true, "color": "#000", "size": 70, "opacity": 1}, "encoding": {"x": {"field": "t", "type": "quantitative", "scale": {"domain": [0, 11.5], "nice": false, "zero": false}, "axis": {"title": null, "labels": false, "values": [0,2,4,6,8,10]}}, "y": {"field": "v", "type": "quantitative", "scale": {"domain": [0, 250], "nice": false, "zero": false}, "axis": {"title": "(kJ)", "values": [0, 100, 200]}}}}
    ]},
    {"layer": [
      {"data": {"name": "b_bp181"}, "mark": {"type": "line", "color": "#000", "strokeWidth": 2.5}, "encoding": {"x": {"field": "t", "type": "quantitative", "scale": {"domain": [0, 11.5], "nice": false, "zero": false}, "axis": {"title": null, "labels": false, "values": [0,2,4,6,8,10]}}, "y": {"field": "v", "type": "quantitative", "scale": {"domain": [0, 4], "nice": false, "zero": false}, "axis": {"orient": "right", "title": null, "values": [1, 2, 3], "labelExpr": "datum.value == 2 ? '2' : ''"}}}},
      {"data": {"name": "b_bp193"}, "mark": {"type": "line", "color": "#ff0000", "strokeWidth": 2.5}, "encoding": {"x": {"field": "t", "type": "quantitative", "scale": {"domain": [0, 11.5], "nice": false, "zero": false}, "axis": {"title": null, "labels": false, "values": [0,2,4,6,8,10]}}, "y": {"field": "v", "type": "quantitative", "scale": {"domain": [0, 4], "nice": false, "zero": false}, "axis": {"orient": "right", "title": null, "values": [1, 2, 3], "labelExpr": "datum.value == 2 ? '2' : ''"}}}}
    ]}
  ],
  "resolve": {"scale": {"y": "independent"}}
},
{
  "width": 366, "height": 109,
  "layer": [
    {"data": {"name": "c_red"}, "mark": {"type": "line", "color": "#ff0000", "strokeWidth": 1.8}, "encoding": {"x": {"field": "t", "type": "quantitative", "scale": {"domain": [0, 11.5], "nice": false, "zero": false}, "axis": {"title": null, "labels": false, "values": [0,2,4,6,8,10]}}, "y": {"field": "v", "type": "quantitative", "scale": {"domain": [0, 3], "nice": false, "zero": false}, "axis": {"title": "(MW)", "values": [0, 1, 2]}}, "detail": {"field": "s"}}},
    {"data": {"name": "c_black"}, "mark": {"type": "line", "color": "#000", "strokeWidth": 1.2}, "encoding": {"x": {"field": "t", "type": "quantitative", "scale": {"domain": [0, 11.5], "nice": false, "zero": false}, "axis": {"title": null, "labels": false, "values": [0,2,4,6,8,10]}}, "y": {"field": "v", "type": "quantitative", "scale": {"domain": [0, 3], "nice": false, "zero": false}, "axis": {"title": "(MW)", "values": [0, 1, 2]}}, "detail": {"field": "s"}}},
    {"data": {"values": [{"t": 0.42, "v": 1.27, "label": "(c)"}]}, "mark": {"type": "text", "align": "left", "baseline": "middle", "fontSize": 19, "fontWeight": "bold", "color": "#000"}, "encoding": {"x": {"field": "t", "type": "quantitative", "scale": {"domain": [0, 11.5], "nice": false, "zero": false}, "axis": {"title": null, "labels": false, "values": [0,2,4,6,8,10]}}, "y": {"field": "v", "type": "quantitative", "scale": {"domain": [0, 3], "nice": false, "zero": false}, "axis": {"title": "(MW)", "values": [0, 1, 2]}}, "text": {"field": "label"}}},
    {"data": {"values": [{"t": 4.12, "v": 2.4, "label": "P"}]}, "mark": {"type": "text", "align": "left", "baseline": "middle", "fontSize": 20, "color": "#000"}, "encoding": {"x": {"field": "t", "type": "quantitative", "scale": {"domain": [0, 11.5], "nice": false, "zero": false}, "axis": {"title": null, "labels": false, "values": [0,2,4,6,8,10]}}, "y": {"field": "v", "type": "quantitative", "scale": {"domain": [0, 3], "nice": false, "zero": false}, "axis": {"title": "(MW)", "values": [0, 1, 2]}}, "text": {"field": "label"}}},
    {"data": {"values": [{"t": 4.47, "v": 2.23, "label": "NBI1L+LHW2+ECH1-3"}]}, "mark": {"type": "text", "align": "left", "baseline": "middle", "fontSize": 13, "color": "#000"}, "encoding": {"x": {"field": "t", "type": "quantitative", "scale": {"domain": [0, 11.5], "nice": false, "zero": false}, "axis": {"title": null, "labels": false, "values": [0,2,4,6,8,10]}}, "y": {"field": "v", "type": "quantitative", "scale": {"domain": [0, 3], "nice": false, "zero": false}, "axis": {"title": "(MW)", "values": [0, 1, 2]}}, "text": {"field": "label"}}}
  ]
},
{
  "width": 366, "height": 109,
  "layer": [
    {"layer": [
      {"data": {"name": "d_band"}, "mark": {"type": "area", "color": "#000", "opacity": 1}, "encoding": {"x": {"field": "t", "type": "quantitative", "scale": {"domain": [0, 11.5], "nice": false, "zero": false}, "axis": {"orient": "bottom", "title": "time (s)", "titlePadding": 2, "titleFontSize": 20, "values": [0,2,4,6,8,10]}}, "y": {"field": "lo", "type": "quantitative", "scale": {"domain": [0, 3], "nice": false, "zero": false}, "axis": {"title": "pxuv7 (a.u.)", "values": [0, 1, 2]}}, "y2": {"field": "hi"}}},
      {"data": {"name": "d_black"}, "mark": {"type": "line", "color": "#000", "strokeWidth": 1}, "encoding": {"x": {"field": "t", "type": "quantitative", "scale": {"domain": [0, 11.5], "nice": false, "zero": false}, "axis": {"orient": "bottom", "title": "time (s)", "titlePadding": 2, "titleFontSize": 20, "values": [0,2,4,6,8,10]}}, "y": {"field": "v", "type": "quantitative", "scale": {"domain": [0, 3], "nice": false, "zero": false}, "axis": {"title": "pxuv7 (a.u.)", "values": [0, 1, 2]}}}},
      {"data": {"name": "d_red"}, "mark": {"type": "line", "color": "#ff0000", "strokeWidth": 1.6}, "encoding": {"x": {"field": "t", "type": "quantitative", "scale": {"domain": [0, 11.5], "nice": false, "zero": false}, "axis": {"orient": "bottom", "title": "time (s)", "titlePadding": 2, "titleFontSize": 20, "values": [0,2,4,6,8,10]}}, "y": {"field": "v", "type": "quantitative", "scale": {"domain": [0, 3], "nice": false, "zero": false}, "axis": {"title": "pxuv7 (a.u.)", "values": [0, 1, 2]}}}},
      {"data": {"values": [{"t": 0.42, "v": 1.4, "label": "(d)"}]}, "mark": {"type": "text", "align": "left", "baseline": "middle", "fontSize": 19, "fontWeight": "bold", "color": "#000"}, "encoding": {"x": {"field": "t", "type": "quantitative", "scale": {"domain": [0, 11.5], "nice": false, "zero": false}, "axis": {"orient": "bottom", "title": "time (s)", "titlePadding": 2, "titleFontSize": 20, "values": [0,2,4,6,8,10]}}, "y": {"field": "v", "type": "quantitative", "scale": {"domain": [0, 3], "nice": false, "zero": false}, "axis": {"title": "pxuv7 (a.u.)", "values": [0, 1, 2]}}, "text": {"field": "label"}}}
    ]},
    {"layer": [
      {"data": {"values": [{"psi": 0.36, "psi2": 1.125, "ne": 4.22, "ne2": -0.572}]}, "mark": {"type": "rect", "fill": "#c8c8c8", "stroke": null}, "encoding": {"x": {"field": "psi", "type": "quantitative", "scale": {"domain": [0.51, 1.09], "range": [337, 534], "nice": false, "zero": false}, "axis": {"orient": "bottom", "offset": -53, "values": [0.6, 0.8, 1.0], "format": ".1f", "labelPadding": 7, "title": "ψN", "titleFontSize": 22, "titlePadding": 2, "zindex": 1}}, "x2": {"field": "psi2"}, "y": {"field": "ne", "type": "quantitative", "scale": {"domain": [0.5, 4], "range": [56, -104], "nice": false, "zero": false}, "axis": {"orient": "left", "offset": -337, "values": [1, 2, 3, 4], "title": "nₑ (10¹⁹m⁻³)", "titleFontSize": 20, "titlePadding": 4, "zindex": 1}}, "y2": {"field": "ne2"}}},
      {"data": {"values": [{"psi": 0.351, "psi2": 1.116, "ne": 4.285, "ne2": -0.506}]}, "mark": {"type": "rect", "fill": "#fff", "stroke": "#b0b0b0", "strokeWidth": 1.5}, "encoding": {"x": {"field": "psi", "type": "quantitative", "scale": {"domain": [0.51, 1.09], "range": [337, 534], "nice": false, "zero": false}, "axis": {"orient": "bottom", "offset": -53, "values": [0.6, 0.8, 1.0], "format": ".1f", "labelPadding": 7, "title": "ψN", "titleFontSize": 22, "titlePadding": 2, "zindex": 1}}, "x2": {"field": "psi2"}, "y": {"field": "ne", "type": "quantitative", "scale": {"domain": [0.5, 4], "range": [56, -104], "nice": false, "zero": false}, "axis": {"orient": "left", "offset": -337, "values": [1, 2, 3, 4], "title": "nₑ (10¹⁹m⁻³)", "titleFontSize": 20, "titlePadding": 4, "zindex": 1}}, "y2": {"field": "ne2"}}},
      {"data": {"values": [{"psi": 0.51, "psi2": 1.09, "ne": 0.5, "ne2": 4.0}]}, "mark": {"type": "rect", "fill": null, "fillOpacity": 0, "stroke": "#000", "strokeWidth": 1}, "encoding": {"x": {"field": "psi", "type": "quantitative", "scale": {"domain": [0.51, 1.09], "range": [337, 534], "nice": false, "zero": false}, "axis": {"orient": "bottom", "offset": -53, "values": [0.6, 0.8, 1.0], "format": ".1f", "labelPadding": 7, "title": "ψN", "titleFontSize": 22, "titlePadding": 2, "zindex": 1}}, "x2": {"field": "psi2"}, "y": {"field": "ne", "type": "quantitative", "scale": {"domain": [0.5, 4], "range": [56, -104], "nice": false, "zero": false}, "axis": {"orient": "left", "offset": -337, "values": [1, 2, 3, 4], "title": "nₑ (10¹⁹m⁻³)", "titleFontSize": 20, "titlePadding": 4, "zindex": 1}}, "y2": {"field": "ne2"}}},
      {"data": {"values": [{"psi": 1.0, "ne": 0.5, "ne2": 4.0}]}, "mark": {"type": "rule", "color": "#000", "strokeWidth": 1, "strokeDash": [5, 4]}, "encoding": {"x": {"field": "psi", "type": "quantitative", "scale": {"domain": [0.51, 1.09], "range": [337, 534], "nice": false, "zero": false}, "axis": {"orient": "bottom", "offset": -53, "values": [0.6, 0.8, 1.0], "format": ".1f", "labelPadding": 7, "title": "ψN", "titleFontSize": 22, "titlePadding": 2, "zindex": 1}}, "y": {"field": "ne", "type": "quantitative", "scale": {"domain": [0.5, 4], "range": [56, -104], "nice": false, "zero": false}, "axis": {"orient": "left", "offset": -337, "values": [1, 2, 3, 4], "title": "nₑ (10¹⁹m⁻³)", "titleFontSize": 20, "titlePadding": 4, "zindex": 1}}, "y2": {"field": "ne2"}}},
      {"data": {"name": "e_points"}, "mark": {"type": "point", "filled": true, "size": 38, "opacity": 1}, "encoding": {"x": {"field": "psi", "type": "quantitative", "scale": {"domain": [0.51, 1.09], "range": [337, 534], "nice": false, "zero": false}, "axis": {"orient": "bottom", "offset": -53, "values": [0.6, 0.8, 1.0], "format": ".1f", "labelPadding": 7, "title": "ψN", "titleFontSize": 22, "titlePadding": 2, "zindex": 1}}, "y": {"field": "ne", "type": "quantitative", "scale": {"domain": [0.5, 4], "range": [56, -104], "nice": false, "zero": false}, "axis": {"orient": "left", "offset": -337, "values": [1, 2, 3, 4], "title": "nₑ (10¹⁹m⁻³)", "titleFontSize": 20, "titlePadding": 4, "zindex": 1}}, "color": {"field": "shot", "type": "nominal", "scale": {"domain": ["102181@5.22s", "102193@5.22s"], "range": ["#000000", "#ff0000"]}, "legend": {"title": null, "orient": "none", "legendX": 344, "legendY": 3, "strokeColor": "#888", "fillColor": "#fff", "padding": 4, "labelFontSize": 15, "labelColor": "#000", "symbolSize": 38, "symbolOffset": 12, "labelOffset": 20, "rowPadding": 3, "symbolStrokeWidth": 0}}, "shape": {"field": "shot", "type": "nominal", "scale": {"domain": ["102181@5.22s", "102193@5.22s"], "range": ["square", "circle"]}, "legend": {"title": null, "orient": "none", "legendX": 344, "legendY": 3, "strokeColor": "#888", "fillColor": "#fff", "padding": 4, "labelFontSize": 15, "labelColor": "#000", "symbolSize": 38, "symbolOffset": 12, "labelOffset": 20, "rowPadding": 3, "symbolStrokeWidth": 0}}}},
      {"data": {"values": [{"psi": 0.542, "ne": 2.36, "label": "(e)"}]}, "mark": {"type": "text", "align": "left", "baseline": "middle", "fontSize": 19, "fontWeight": "bold", "color": "#000"}, "encoding": {"x": {"field": "psi", "type": "quantitative", "scale": {"domain": [0.51, 1.09], "range": [337, 534], "nice": false, "zero": false}, "axis": {"orient": "bottom", "offset": -53, "values": [0.6, 0.8, 1.0], "format": ".1f", "labelPadding": 7, "title": "ψN", "titleFontSize": 22, "titlePadding": 2, "zindex": 1}}, "y": {"field": "ne", "type": "quantitative", "scale": {"domain": [0.5, 4], "range": [56, -104], "nice": false, "zero": false}, "axis": {"orient": "left", "offset": -337, "values": [1, 2, 3, 4], "title": "nₑ (10¹⁹m⁻³)", "titleFontSize": 20, "titlePadding": 4, "zindex": 1}}, "text": {"field": "label"}}}
    ]}
  ],
  "resolve": {"scale": {"x": "independent", "y": "independent"}}
}
]
}
